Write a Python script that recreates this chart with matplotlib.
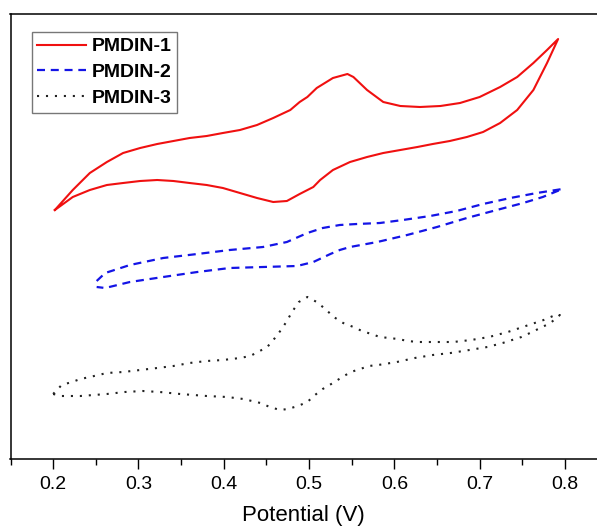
import matplotlib
matplotlib.use("Agg")
import matplotlib.pyplot as plt
from matplotlib.ticker import MultipleLocator

plt.rcParams['font.family'] = ['Liberation Sans', 'DejaVu Sans']

# PMDIN-1: forward (anodic) scan then reverse scan; current in arbitrary units
p1_fwd_v = [0.202, 0.223, 0.243, 0.263, 0.282, 0.302, 0.322, 0.341, 0.360, 0.380,
            0.399, 0.419, 0.439, 0.458, 0.478, 0.489, 0.498, 0.509, 0.528, 0.545,
            0.552, 0.568, 0.587, 0.607, 0.630, 0.654, 0.677, 0.700, 0.724, 0.744,
            0.763, 0.779, 0.792]
p1_fwd_i = [249, 269, 286, 297, 306, 311, 315, 318, 321, 323,
            326, 329, 334, 341, 349, 357, 362, 371, 381, 385,
            382, 369, 357, 353, 352, 353, 356, 362, 372, 382,
            396, 409, 420]
p1_rev_v = [0.792, 0.779, 0.763, 0.744, 0.724, 0.704, 0.685, 0.665, 0.645, 0.627,
            0.607, 0.587, 0.568, 0.548, 0.528, 0.513, 0.505, 0.489, 0.474, 0.458,
            0.439, 0.419, 0.399, 0.380, 0.360, 0.341, 0.322, 0.302, 0.282, 0.263,
            0.243, 0.223, 0.202]
p1_rev_i = [420, 396, 369, 349, 336, 327, 322, 318, 315, 312,
            309, 306, 302, 297, 289, 279, 272, 265, 258, 257,
            261, 266, 271, 274, 276, 278, 279, 278, 276, 274,
            269, 262, 249]

# PMDIN-2
p2_fwd_v = [0.251, 0.261, 0.290, 0.329, 0.369, 0.407, 0.446, 0.474, 0.498, 0.516,
            0.536, 0.556, 0.583, 0.610, 0.642, 0.673, 0.704, 0.736, 0.767, 0.797]
p2_fwd_i = [178, 186, 194, 201, 205, 209, 212, 217, 226, 231,
            234, 235, 236, 239, 243, 248, 255, 261, 266, 270]
p2_rev_v = [0.797, 0.774, 0.751, 0.720, 0.685, 0.650, 0.615, 0.580, 0.548, 0.536,
            0.525, 0.505, 0.486, 0.446, 0.407, 0.369, 0.329, 0.290, 0.261, 0.251]
p2_rev_i = [270, 262, 256, 249, 241, 232, 224, 217, 212, 209,
            205, 197, 193, 192, 191, 187, 182, 177, 171, 172]

# PMDIN-3
p3_fwd_v = [0.200, 0.210, 0.222, 0.232, 0.243, 0.263, 0.282, 0.302, 0.322, 0.341,
            0.360, 0.380, 0.399, 0.419, 0.431, 0.440, 0.451, 0.460, 0.468, 0.474,
            0.480, 0.488, 0.498, 0.509, 0.519, 0.529, 0.540, 0.552, 0.562, 0.573,
            0.583, 0.594, 0.604, 0.616, 0.627, 0.648, 0.669, 0.690, 0.711, 0.733,
            0.754, 0.775, 0.786, 0.794]
p3_fwd_i = [65, 74, 77, 80, 82, 86, 87, 89, 91, 93,
            96, 98, 99, 101, 103, 107, 112, 121, 130, 138,
            147, 157, 162, 157, 150, 142, 136, 132, 128, 125,
            122, 121, 120, 118, 117, 117, 117, 119, 122, 127,
            133, 139, 143, 144]
p3_rev_v = [0.794, 0.783, 0.771, 0.759, 0.749, 0.738, 0.727, 0.709, 0.688, 0.666,
            0.645, 0.624, 0.603, 0.581, 0.570, 0.560, 0.549, 0.539, 0.528, 0.516,
            0.507, 0.498, 0.487, 0.475, 0.466, 0.454, 0.443, 0.423, 0.404, 0.380,
            0.349, 0.325, 0.305, 0.284, 0.263, 0.232, 0.210, 0.200]
p3_rev_i = [144, 136, 131, 126, 122, 119, 116, 112, 109, 106,
            104, 101, 97, 94, 93, 90, 87, 82, 76, 70,
            64, 57, 53, 50, 49, 52, 56, 60, 62, 63,
            65, 67, 68, 67, 65, 63, 63, 65]

labels = ['PMDIN-1', 'PMDIN-2', 'PMDIN-3']
x_ticks = [0.2, 0.3, 0.4, 0.5, 0.6, 0.7, 0.8]

fig = plt.figure(figsize=(5.97, 5.29), dpi=100)
ax = fig.add_axes([10.5 / 597, 70 / 529, 586.5 / 597, 445 / 529])

ax.plot(p1_fwd_v + p1_rev_v[1:], p1_fwd_i + p1_rev_i[1:], color='#f01010', lw=1.5,
        label=labels[0], solid_joinstyle='round')
ax.plot(p2_fwd_v + p2_rev_v[1:], p2_fwd_i + p2_rev_i[1:], color='#1414e6', lw=1.6,
        linestyle=(0, (3.6, 2.6)), label=labels[1])
ax.plot(p3_fwd_v + p3_rev_v[1:], p3_fwd_i + p3_rev_i[1:], color='#222222', lw=1.5,
        linestyle=(0, (1.0, 3.3)), label=labels[2])

ax.set_xlim(0.15, 0.15 + 586.5 / 853)
ax.set_ylim(0, 445)
ax.set_xticks(x_ticks)
ax.set_xticklabels([f'{t:.1f}' for t in x_ticks])
ax.xaxis.set_minor_locator(MultipleLocator(0.05))
ax.set_yticks([])
ax.spines['right'].set_visible(False)
for s in ['left', 'top', 'bottom']:
    ax.spines[s].set_linewidth(1.1)
ax.tick_params(axis='x', which='major', direction='out', length=7, width=1.0,
               labelsize=14, pad=5)
ax.tick_params(axis='x', which='minor', direction='out', length=4, width=1.0)
ax.set_xlabel('Potential (V)', fontsize=16, labelpad=9)

leg = ax.legend(loc='upper left', bbox_to_anchor=(21 / 586.5, 1 - 18 / 445),
                borderaxespad=0, fancybox=False, frameon=True,
                prop={'weight': 'bold', 'size': 14}, handlelength=2.5,
                handletextpad=0.3, labelspacing=0.42, borderpad=0.3)
leg.get_frame().set_edgecolor('#555555')
leg.get_frame().set_linewidth(1.0)

fig.savefig('out.png', dpi=100)
